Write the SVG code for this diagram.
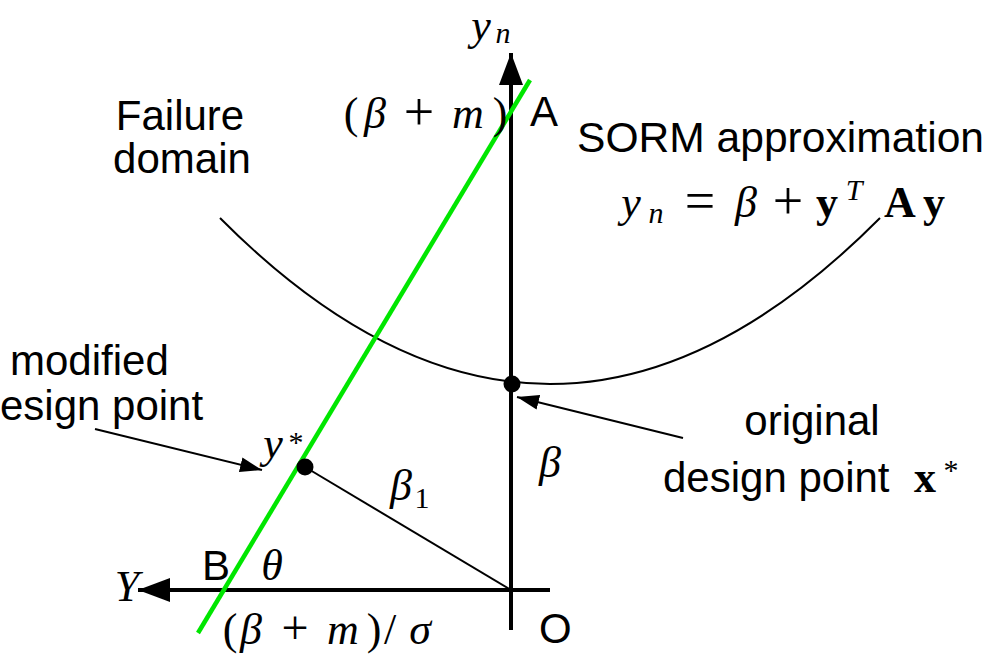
<svg xmlns="http://www.w3.org/2000/svg" width="995" height="656" viewBox="0 0 995 656">
<style>
.sans{font-family:"Liberation Sans",Arial,sans-serif;font-size:42px;fill:#000}
.math{font-family:"Liberation Serif","DejaVu Serif",serif;font-size:44px;fill:#000}
.it{font-style:italic}
.bf{font-weight:bold}
.sub{font-size:30px}
.op{font-size:54px}
.axis{stroke:#000;stroke-width:4;fill:none}
.thin{stroke:#000;stroke-width:2;fill:none}
.green{stroke:#00e600;stroke-width:4.5;fill:none}
</style>
<defs>
<marker id="axisHead" markerUnits="userSpaceOnUse" markerWidth="34" markerHeight="26" refX="32" refY="12" orient="auto">
<path d="M0,0 L32,12 L0,24 z" fill="#000"/>
</marker>
<marker id="ptrHead" markerUnits="userSpaceOnUse" markerWidth="24" markerHeight="16" refX="22" refY="7.5" orient="auto">
<path d="M0,0 L22,7.5 L0,15 z" fill="#000"/>
</marker>
</defs>
<rect width="995" height="656" fill="#fff"/>

<g id="connectors">
<path id="surface" class="thin" d="M220,218 Q550,550 880,218"/>
<line id="axis-yn" class="axis" x1="511" y1="630" x2="511" y2="53" marker-end="url(#axisHead)"/>
<line id="axis-Y" class="axis" x1="550" y1="590" x2="138" y2="590" marker-end="url(#axisHead)"/>
<line id="limit-line" class="green" x1="198" y1="633" x2="530" y2="80"/>
<line id="beta1-line" class="thin" x1="305" y1="467" x2="511" y2="590"/>
<line id="ptr-modified" class="thin" x1="95" y1="429" x2="262" y2="470" marker-end="url(#ptrHead)"/>
<line id="ptr-original" class="thin" x1="683" y1="438" x2="517" y2="397" marker-end="url(#ptrHead)"/>
</g>

<g id="modified-point">
<circle cx="305" cy="467" r="8.5" fill="#000"/>
<text class="math it" text-anchor="middle"><tspan x="273" y="458">y</tspan><tspan x="296" y="452" class="sub" font-style="normal">*</tspan></text>
</g>

<g id="original-point">
<circle cx="512" cy="384" r="8.5" fill="#000"/>
</g>

<g id="label-yn">
<text class="math it" text-anchor="middle" font-size="40"><tspan x="481" y="40">y</tspan><tspan x="503" y="43" class="sub" font-size="28">n</tspan></text>
</g>

<g id="label-A">
<text class="math" text-anchor="middle"><tspan x="351" y="128">(</tspan><tspan x="375" y="128" class="it">β</tspan><tspan x="419" y="130" class="op">+</tspan><tspan x="468" y="128" class="it">m</tspan><tspan x="500" y="128">)</tspan></text>
<text class="sans" x="530" y="126">A</text>
</g>

<g id="failure-domain">
<text class="sans" text-anchor="middle"><tspan x="180" y="130">Failure</tspan><tspan x="182" y="173">domain</tspan></text>
</g>

<g id="sorm">
<text class="sans" x="577" y="152" font-size="43" textLength="407" lengthAdjust="spacingAndGlyphs">SORM approximation</text>
<text class="math" text-anchor="middle"><tspan x="631" y="217" class="it">y</tspan><tspan x="656" y="223" class="it sub">n</tspan><tspan x="700" y="219" class="op">=</tspan><tspan x="746" y="217" class="it">β</tspan><tspan x="788" y="219" class="op">+</tspan><tspan x="827" y="217" class="bf">y</tspan><tspan x="854" y="200" class="it sub">T</tspan><tspan x="900" y="217" class="bf">A</tspan><tspan x="934" y="217" class="bf">y</tspan></text>
</g>

<g id="modified-label">
<text class="sans"><tspan x="10" y="375">modified</tspan><tspan x="0" y="420">esign point</tspan></text>
</g>

<g id="original-label">
<text class="sans" x="812" y="435" text-anchor="middle">original</text>
<text class="sans" x="663" y="492">design point</text>
<text class="math bf" x="925" y="492" text-anchor="middle">x</text>
<text class="math sub" x="951" y="480" text-anchor="middle">*</text>
</g>

<g id="beta-label">
<text class="math it" x="550" y="477" text-anchor="middle">β</text>
</g>

<g id="beta1-label">
<text class="math" text-anchor="middle"><tspan x="401" y="500" class="it">β</tspan><tspan x="422" y="508" class="sub">1</tspan></text>
</g>

<g id="label-B">
<text class="sans" x="202" y="580">B</text>
<text class="math it" x="272" y="580" text-anchor="middle">θ</text>
</g>

<g id="label-Y">
<text class="math it" x="127" y="601" text-anchor="middle">Y</text>
</g>

<g id="label-bottom">
<text class="math" text-anchor="middle" font-size="42"><tspan x="230" y="644">(</tspan><tspan x="251" y="644" class="it">β</tspan><tspan x="295" y="644" font-size="48">+</tspan><tspan x="343" y="644" class="it">m</tspan><tspan x="374" y="644">)</tspan><tspan x="390" y="644">/</tspan><tspan x="420" y="644" class="it">σ</tspan></text>
</g>

<g id="label-O">
<text class="sans" x="539" y="643">O</text>
</g>
</svg>
